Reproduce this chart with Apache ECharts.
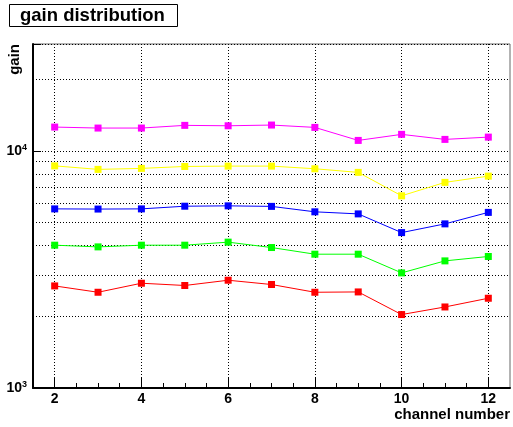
<!DOCTYPE html>
<html>
<head>
<meta charset="utf-8">
<script src="https://cdn.jsdelivr.net/npm/echarts@6/dist/echarts.min.js"></script>
<style>
html,body{margin:0;padding:0;background:#fff;}
#chart{width:513px;height:427px;}
</style>
</head>
<body>
<div id="chart"></div>
<script>
var channels = [2, 3, 4, 5, 6, 7, 8, 9, 10, 11, 12];
var gainMagenta = [12590, 12470, 12470, 12800, 12750, 12840, 12550, 11060, 11730, 11170, 11420];
var gainYellow  = [8640, 8350, 8430, 8590, 8620, 8620, 8400, 8110, 6460, 7360, 7820];
var gainBlue    = [5690, 5680, 5690, 5840, 5860, 5830, 5530, 5420, 4520, 4920, 5500];
var gainGreen   = [4000, 3935, 4000, 4000, 4120, 3910, 3665, 3665, 3057, 3435, 3585];
var gainRed     = [2694, 2533, 2765, 2705, 2847, 2731, 2533, 2541, 2040, 2196, 2390];

var xMajorTicks = [2, 4, 6, 8, 10, 12];
var xMinorTicks = [2, 2.5, 3, 3.5, 4, 4.5, 5, 5.5, 6, 6.5, 7, 7.5, 8, 8.5, 9, 9.5, 10, 10.5, 11, 11.5, 12];
var yGridMinor = [2000, 3000, 4000, 5000, 6000, 7000, 8000, 9000, 20000];
var yMin = 1000, yMax = 28200;

function pairs(vals) {
  return channels.map(function (c, i) { return [c, vals[i]]; });
}

var font = 'Liberation Sans, Arial, Helvetica, sans-serif';
var dotted = { color: '#000', width: 1, type: [1, 2] };

function mkSeries(name, color, vals, withGrid) {
  var s = {
    name: name,
    type: 'line',
    xAxisIndex: 0,
    yAxisIndex: 0,
    data: pairs(vals),
    symbol: 'rect',
    symbolSize: 7,
    itemStyle: { color: color },
    lineStyle: { color: color, width: 1 },
    z: 5,
    animation: false
  };
  if (withGrid) {
    s.markLine = {
      silent: true,
      symbol: ['none', 'none'],
      label: { show: false },
      lineStyle: dotted,
      animation: false,
      z: 1,
      data: yGridMinor.map(function (v) { return { yAxis: v }; })
    };
  }
  return s;
}

var chart = echarts.init(document.getElementById('chart'), null, { renderer: 'canvas' });
chart.setOption({
  backgroundColor: '#fff',
  animation: false,
  title: {
    text: 'gain distribution',
    left: 9,
    top: 4,
    padding: [2, 13, 2, 11],
    borderColor: '#000',
    borderWidth: 1,
    backgroundColor: '#fff',
    textStyle: { fontFamily: font, fontWeight: 'bold', fontSize: 18.5, lineHeight: 19, color: '#000' }
  },
  grid: {
    left: 33, top: 44, right: 3, bottom: 39,
    show: true, borderColor: '#666', borderWidth: 1, backgroundColor: 'transparent'
  },
  xAxis: [{
    type: 'value',
    min: 1.5,
    max: 12.5,
    axisLine: { show: true, onZero: false, lineStyle: { color: '#000', width: 2 } },
    axisTick: { show: true, inside: true, length: 10, customValues: xMajorTicks, lineStyle: { color: '#000' } },
    axisLabel: { show: true, customValues: xMajorTicks, margin: 4, fontFamily: font, fontWeight: 'bold', fontSize: 14, color: '#000' },
    splitLine: { show: true, lineStyle: dotted }
  }, {
    type: 'value',
    min: 1.5,
    max: 12.5,
    position: 'bottom',
    axisLine: { show: false },
    axisTick: { show: true, inside: true, length: 5, customValues: xMinorTicks, lineStyle: { color: '#000' } },
    axisLabel: { show: false },
    splitLine: { show: false }
  }],
  yAxis: [{
    type: 'log',
    logBase: 10,
    min: yMin,
    max: yMax,
    axisLine: { show: true, onZero: false, lineStyle: { color: '#000', width: 2 } },
    axisTick: { show: true, inside: true, length: 8, lineStyle: { color: '#000' } },
    axisLabel: {
      show: true,
      margin: 6,
      formatter: function (v) {
        var e = Math.round(Math.log10(v));
        if (Math.abs(Math.log10(v) - e) > 1e-6) return '';
        return '{b|10}{s|' + e + '}';
      },
      rich: {
        b: { fontFamily: font, fontWeight: 'bold', fontSize: 14, color: '#000', lineHeight: 16 },
        s: { fontFamily: font, fontWeight: 'bold', fontSize: 9, color: '#000', lineHeight: 10, verticalAlign: 'top' }
      }
    },
    splitLine: { show: true, lineStyle: dotted }
  }],
  series: [
    mkSeries('magenta', '#ff00ff', gainMagenta, true),
    mkSeries('yellow', '#ffff00', gainYellow, false),
    mkSeries('blue', '#0000ff', gainBlue, false),
    mkSeries('green', '#00ff00', gainGreen, false),
    mkSeries('red', '#ff0000', gainRed, false)
  ],
  graphic: [{
    type: 'text',
    x: 15,
    y: 44,
    rotation: Math.PI / 2,
    style: { text: 'gain', fontFamily: font, fontWeight: 'bold', fontSize: 15, fill: '#000', align: 'right', verticalAlign: 'middle' }
  }, {
    type: 'text',
    x: 510,
    y: 415,
    style: { text: 'channel number', fontFamily: font, fontWeight: 'bold', fontSize: 15, fill: '#000', align: 'right', verticalAlign: 'middle' }
  }]
});
</script>
</body>
</html>
